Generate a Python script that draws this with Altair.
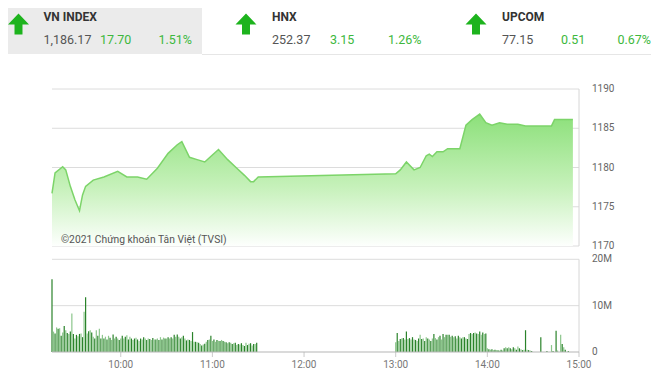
import altair as alt
import pandas as pd

DAY = "2021-01-04"
FONT = "Roboto, sans-serif"

# ---- header data ----
index_names = ["VN INDEX", "HNX", "UPCOM"]
index_values = ["1,186.17", "252.37", "77.15"]
index_changes = ["17.70", "3.15", "0.51"]
index_pcts = ["1.51%", "1.26%", "0.67%"]

# ---- index line ----
price_times = ["09:15", "09:17", "09:22", "09:24", "09:27", "09:30", "09:33", "09:35", "09:37",
               "09:42", "09:49", "09:58", "10:04", "10:11", "10:17", "10:24", "10:31", "10:37",
               "10:40", "10:45", "10:50", "10:55", "11:00", "11:04", "11:10", "11:16", "11:21",
               "11:25", "11:27", "11:30", "13:00", "13:03", "13:07", "13:12", "13:16", "13:20",
               "13:22", "13:24", "13:27", "13:31", "13:34", "13:42", "13:46", "13:50", "13:55",
               "13:59", "14:03", "14:08", "14:13", "14:20", "14:25", "14:42", "14:44", "14:56"]
price_values = [1176.7, 1179.3, 1180.1, 1179.7, 1177.6, 1175.9, 1174.5, 1176.5, 1177.6,
                1178.4, 1178.8, 1179.5, 1178.8, 1178.8, 1178.5, 1179.9, 1181.8, 1182.9,
                1183.3, 1181.3, 1181.0, 1180.7, 1181.6, 1182.3, 1181.0, 1179.9, 1179.0,
                1178.2, 1178.2, 1178.8, 1179.2, 1179.7, 1180.7, 1179.7, 1180.0, 1181.5,
                1181.7, 1181.4, 1182.0, 1182.0, 1182.4, 1182.4, 1185.4, 1186.1, 1186.8,
                1185.7, 1185.4, 1185.7, 1185.5, 1185.5, 1185.3, 1185.3, 1186.1, 1186.1]

# ---- volume (millions), one bar per minute ----
vol_morning = [15.7,
               4.4, 4.0, 5.3, 5.0, 5.1, 3.5, 4.2, 5.6, 4.7, 4.1, 3.9, 4.4,
               8.3,
               3.9, 2.9, 3.7, 3.4, 3.9, 4.0, 3.2,
               8.7, 11.8,
               4.0, 4.5, 4.7, 4.2, 3.3, 2.9, 4.7, 3.5, 5.0, 2.9,
               3.7, 2.9, 3.3, 2.7, 3.5, 3.1, 2.6, 3.8, 2.9, 3.3,
               2.9, 2.6, 2.9, 3.5, 2.9, 3.3, 3.6, 2.7, 3.3, 2.9,
               2.6, 2.9, 3.1, 2.7, 2.4, 2.9, 2.7, 3.2, 2.9, 2.6,
               2.9, 2.8, 2.6, 3.0, 2.7,
               2.7, 2.9, 2.6, 3.2, 2.7, 3.1, 2.9, 2.9, 3.2, 2.9,
               3.2, 2.9, 3.7, 3.3, 3.8, 3.3, 2.9, 3.2, 3.5, 2.9,
               2.5, 2.7, 2.6, 2.4, 4.3,
               2.2, 2.2, 2.1, 2.0, 1.7, 1.4, 1.6, 1.8, 2.2, 2.6, 2.7, 3.5,
               2.4, 2.7, 2.2, 2.6, 2.4, 2.4, 2.6, 2.4, 2.2, 2.1,
               1.9, 2.1, 2.0, 1.7, 1.9, 2.0, 1.5, 1.7, 1.6, 1.9,
               1.5, 1.3, 2.0, 1.5, 1.8, 1.9, 1.4, 1.7, 1.7, 2.0]
vol_pm1 = [2.1, 4.1, 2.4, 2.8, 2.9, 3.0, 2.7, 4.4, 2.8, 3.0,
           2.7, 3.2, 2.7, 2.6, 2.4, 2.9, 3.7, 2.8, 2.9, 2.4,
           3.2, 2.9, 2.7, 2.4, 2.9, 3.9, 3.0, 2.7, 3.2, 3.5,
           2.7, 3.9, 3.2, 3.7, 3.7, 3.7, 3.3, 3.5, 3.2, 3.4,
           2.9, 3.5, 3.2, 2.9, 3.2, 3.2, 2.9, 2.8, 3.9, 4.1,
           3.9, 4.1, 4.2, 4.0, 3.9, 4.4, 3.7, 4.2, 3.9, 4.0]
vol_pm2 = [0.8, 0.6, 0.5, 0.6, 0.4, 0.5, 0.4, 0.4, 0.3, 0.5,
           0.3, 0.8, 1.0, 0.8, 1.0, 0.8, 0.6, 1.0, 0.8, 0.5,
           1.2, 0.8, 0.6, 0.4, 0.5, 4.7, 0.5, 0.4, 0.3, 0.2,
           0.0, 0.0, 0.0, 0.0, 0.0, 3.2, 0.0, 0.0, 0.0, 0.2,
           0.0, 0.0, 1.5, 0.2, 0.0, 4.6, 0.3, 0.0, 3.7, 1.7,
           1.0, 0.5, 0.0, 0.2]

price_ticks = [1170, 1175, 1180, 1185, 1190]
vol_ticks = [0, 10, 20]
hour_ticks = ["10:00", "11:00", "12:00", "13:00", "14:00", "15:00"]
watermark = "©2021 Chứng khoán Tân Việt (TVSI)"

# one shared vertical scale: the volume panel sits below the index panel
PX_PER_PT = 7.85
VOL_K = 4.635 / PX_PER_PT
VBASE = 1170 - 106 / PX_PER_PT
YTOP = 1190
W, H = 527, 263


def iso(hm):
    return f"{DAY}T{hm}:00"


def minutes_from(start, n):
    return pd.date_range(f"{DAY} {start}", periods=n, freq="min").strftime("%Y-%m-%dT%H:%M:%S").tolist()


def ms(hm):
    h, m = hm.split(":")
    return alt.DateTime(year=2021, month=1, date=4, hours=int(h), minutes=int(m))


df_price = pd.DataFrame({"t": [iso(s) for s in price_times], "p": price_values})
vol_t = minutes_from("09:15", len(vol_morning)) + minutes_from("13:00", len(vol_pm1)) + minutes_from("14:00", len(vol_pm2))
vol_v = vol_morning + vol_pm1 + vol_pm2
df_vol = pd.DataFrame({"t": vol_t, "v": vol_v,
                       "shade": ["a" if i % 2 == 0 else "b" for i in range(len(vol_v))]})
df_border = pd.DataFrame({"t": [iso("15:00")] * 2, "a": [1170, VBASE], "b": [1190, VBASE + 20 * VOL_K]})
df_hgrid = pd.DataFrame({"g": price_ticks + [VBASE + v * VOL_K for v in vol_ticks[1:]],
                         "t0": iso("09:15"), "t1": iso("15:00")})
df_xt = pd.DataFrame({"t": [iso(h) for h in hour_ticks], "lab": hour_ticks})
df_yl = pd.DataFrame({"g": price_ticks + [VBASE + v * VOL_K for v in vol_ticks],
                      "lab": [str(p) for p in price_ticks] + [("0" if v == 0 else f"{v}M") for v in vol_ticks],
                      "t": iso("15:00")})

xs = alt.Scale(domain=[ms("09:15"), ms("15:00")], nice=False, padding=0)
ys = alt.Scale(domain=[VBASE, YTOP], nice=False, zero=False, padding=0)

one = alt.Data(values=[{}])
layers = []

# ---- header ----
layers.append(alt.Chart(one).mark_rect(color="#ebebeb").encode(
    x=alt.value(-44), x2=alt.value(150), y=alt.value(-81), y2=alt.value(-35)))
layers.append(alt.Chart(one).mark_rule(color="#e6e6e6", strokeWidth=1).encode(
    x=alt.value(150), x2=alt.value(599), y=alt.value(-34.5)))

ARROW = "M0,-1 L1,0.05 L0.38,0.05 L0.38,1 L-0.38,1 L-0.38,0.05 L-1,0.05 Z"
arrow_x = [-33.5, 194, 424]
title_x = [-8.5, 220, 450]
change_x = [48, 278, 509]
pct_right = [140, 369.5, 599]
for i in range(3):
    layers.append(alt.Chart(one).mark_point(shape=ARROW, filled=True, size=441, color="#1db31d",
                                            opacity=1, strokeWidth=0).encode(
        x=alt.value(arrow_x[i]), y=alt.value(-65)))
    layers.append(alt.Chart(one).mark_text(text=index_names[i], align="left", baseline="alphabetic",
                                           font=FONT, fontSize=12, fontWeight="bold", color="#333333").encode(
        x=alt.value(title_x[i]), y=alt.value(-68.5)))
    layers.append(alt.Chart(one).mark_text(text=index_values[i], align="left", baseline="alphabetic",
                                           font=FONT, fontSize=12.5, color="#555555").encode(
        x=alt.value(title_x[i]), y=alt.value(-44.7)))
    layers.append(alt.Chart(one).mark_text(text=index_changes[i], align="left", baseline="alphabetic",
                                           font=FONT, fontSize=12.5, color="#3db83d").encode(
        x=alt.value(change_x[i]), y=alt.value(-44.7)))
    layers.append(alt.Chart(one).mark_text(text=index_pcts[i], align="right", baseline="alphabetic",
                                           font=FONT, fontSize=12.5, color="#3db83d").encode(
        x=alt.value(pct_right[i]), y=alt.value(-44.7)))

# ---- grid lines and panel borders (through the scales) ----
hgrid = alt.Chart(df_hgrid).mark_rule(color="#dcdcdc", strokeWidth=1).encode(
    x=alt.X("t0:T", scale=xs, axis=None), x2="t1:T",
    y=alt.Y("g:Q", scale=ys, axis=None))
borders = alt.Chart(df_border).mark_rule(color="#d6d6d6").encode(
    x=alt.X("t:T", scale=xs, axis=None),
    y=alt.Y("a:Q", scale=ys, axis=None), y2="b:Q")

# ---- index panel ----
grad = alt.Gradient(gradient="linear",
                    stops=[alt.GradientStop(color="#8ce07a", offset=0),
                           alt.GradientStop(color="#c6f1ba", offset=0.55),
                           alt.GradientStop(color="#fdfffd", offset=1)],
                    x1=1, x2=1, y1=0, y2=1)
area = alt.Chart(df_price).mark_area(color=grad).encode(
    x=alt.X("t:T", scale=xs, axis=None),
    y=alt.Y("p:Q", scale=ys, axis=None),
    y2=alt.datum(1170))
line = alt.Chart(df_price).mark_line(color="#7cd469", strokeWidth=1.5).encode(
    x=alt.X("t:T", scale=xs, axis=None),
    y=alt.Y("p:Q", scale=ys, axis=None))

# ---- volume panel ----
bars = alt.Chart(df_vol).transform_calculate(
    vy=f"{VBASE} + datum.v * {VOL_K}"
).mark_bar(width=1.2).encode(
    x=alt.X("t:T", scale=xs, axis=None),
    y=alt.Y("vy:Q", scale=ys, axis=None),
    y2=alt.datum(VBASE),
    color=alt.Color("shade:N", scale=alt.Scale(domain=["a", "b"], range=["#2a832a", "#8cc68c"]), legend=None))

# ---- axes drawn as marks on the shared scales ----
baseline = alt.Chart(one).mark_rule(color="#b5b5b5").encode(
    x=alt.value(0), x2=alt.value(W), y=alt.value(H))
xticks = alt.Chart(df_xt).mark_tick(orient="vertical", size=5, thickness=1, color="#b5b5b5", yOffset=2.5).encode(
    x=alt.X("t:T", scale=xs, axis=None), y=alt.value(H))
xlabels = alt.Chart(df_xt).mark_text(font=FONT, fontSize=10, color="#777777", baseline="middle", dy=13).encode(
    x=alt.X("t:T", scale=xs, axis=None), y=alt.value(H), text="lab:N")
ylabels = alt.Chart(df_yl).mark_text(font=FONT, fontSize=10, color="#666666", align="left",
                                     baseline="middle", dx=13).encode(
    x=alt.X("t:T", scale=xs, axis=None), y=alt.Y("g:Q", scale=ys, axis=None), text="lab:N")

wm = alt.Chart(one).mark_text(text=watermark, align="left", baseline="alphabetic", font=FONT,
                              fontSize=10.3, color="#555555").encode(x=alt.value(9), y=alt.value(154))

chart = alt.layer(*layers, hgrid, borders, area, line, bars, baseline, xticks, xlabels, ylabels, wm).properties(
    width=W, height=H, padding=0
).configure_view(stroke=None)

chart.save("out.html", embed_options={"renderer": "svg", "actions": False})
